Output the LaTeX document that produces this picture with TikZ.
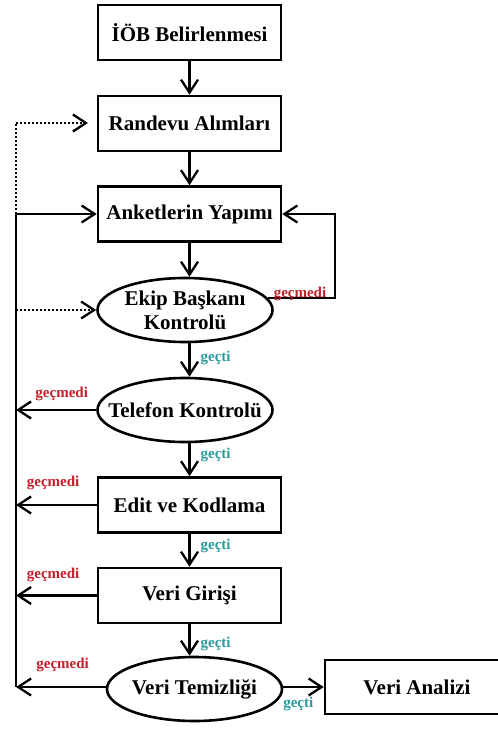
\documentclass[tikz,border=0pt]{standalone}
\usepackage{fontspec}
\setmainfont{Liberation Serif}
\usetikzlibrary{arrows.meta,shapes.geometric,calc}
\definecolor{failred}{HTML}{C41E2A}
\definecolor{passteal}{HTML}{2A9A9C}
\begin{document}
\begin{tikzpicture}[x=1pt,y=-1pt,
  stage/.style={draw, line width=2.6pt, minimum width=183pt, minimum height=55pt,
    inner sep=0pt, font=\fontsize{21}{24}\selectfont\bfseries},
  check/.style={draw, ellipse, line width=2.6pt, minimum width=175pt,
    minimum height=64pt, inner sep=0pt},
  every label/.style={font=\fontsize{21}{24}\selectfont\bfseries, align=center, inner sep=0pt},
  flow/.style={line width=2.3pt, -{Straight Barb[length=13pt,width=17pt]}},
  wire/.style={line width=2.3pt},
  dotflow/.style={line width=2.2pt, dash pattern=on 2pt off 2pt,
    -{Straight Barb[length=13pt,width=17pt,line width=2.3pt,sep=0pt]}},
  dotwire/.style={line width=2.2pt, dash pattern=on 2pt off 2pt},
  pass/.style={font=\fontsize{15}{17}\selectfont\bfseries, text=passteal, inner sep=0pt},
  fail/.style={font=\fontsize{15}{17}\selectfont\bfseries, text=failred, inner sep=0pt}]
\useasboundingbox (0,0) rectangle (498,729);

% process stages and checks
\node[stage] (iob) at (189.5,32.5) {İÖB Belirlenmesi};
\node[stage] (randevu) at (189.5,123.5) {Randevu Alımları};
\node[stage] (anket) at (189.5,214) {Anketlerin Yapımı};
\node[check, label={center:Ekip Başkanı\\Kontrolü}] (ekip) at (185,310) {};
\node[check, label={center:Telefon Kontrolü}] (telefon) at (185,410) {};
\node[stage] (edit) at (189.5,505) {Edit ve Kodlama};
\node[stage] (giris) at (189.5,595.5) {Veri Girişi};
\node[check, label={center:Veri Temizliği}] (temiz) at (194.5,689) {};
% the last box runs off the right edge of the page
\node[stage, minimum width=200pt, minimum height=54pt,
  label={[xshift=-8pt]center:Veri Analizi}] (analiz) at (425,687) {};

% main downward flow
\draw[flow] (iob) -- (randevu);
\draw[flow] (randevu) -- (anket);
\draw[flow] (anket.south) -- (anket.south |- ekip.north);
\draw[flow] (anket.south |- ekip.south) -- (anket.south |- telefon.north)
  node[pass, pos=0.45, right=10pt] {geçti};
\draw[flow] (anket.south |- telefon.south) -- (edit.north)
  node[pass, pos=0.36, right=10pt] {geçti};
\draw[flow] (edit) -- (giris)
  node[pass, pos=0.36, right=10pt] {geçti};
\draw[flow] (giris.south) -- (giris.south |- temiz.north)
  node[pass, pos=0.62, right=10pt] {geçti};
\draw[flow] (temiz.east |- analiz.west) -- (analiz.west)
  node[pass, pos=0.37, below=9pt] {geçti};

% return loop on the right
\coordinate (rtop) at (335,214);
\draw[flow] (ekip.8) -| (rtop) -- (anket.east);
\node[fail] (ekipfail) at (300,294) {geçmedi};

% return trunk on the left
\coordinate (ltop) at (16,214);
\coordinate (lbot) at (16,687);
\coordinate (lmid) at (16,310);
\coordinate (lrand) at (16,123);
\coordinate (randin) at (88,123);
\draw[wire] (ltop) -- (lbot);
\draw[flow] (ltop) -- (anket.west);
\draw[dotwire] (ltop) -- (lrand);
\draw[dotflow] (lrand) -- (randin);
\draw[dotflow] (lmid) -- (ekip.west);

\draw[flow] (telefon.west) -- (telefon.west -| ltop)
  node[fail, pos=0.43, above=8pt] {geçmedi};
\draw[flow] (edit.west) -- (edit.west -| ltop)
  node[fail, pos=0.54, above=14pt] {geçmedi};
\draw[flow] (giris.west) -- (giris.west -| ltop)
  node[fail, pos=0.54, above=13pt] {geçmedi};
\draw[flow] (temiz.west |- lbot) -- (lbot)
  node[fail, pos=0.48, above=14pt] {geçmedi};
\end{tikzpicture}
\end{document}
